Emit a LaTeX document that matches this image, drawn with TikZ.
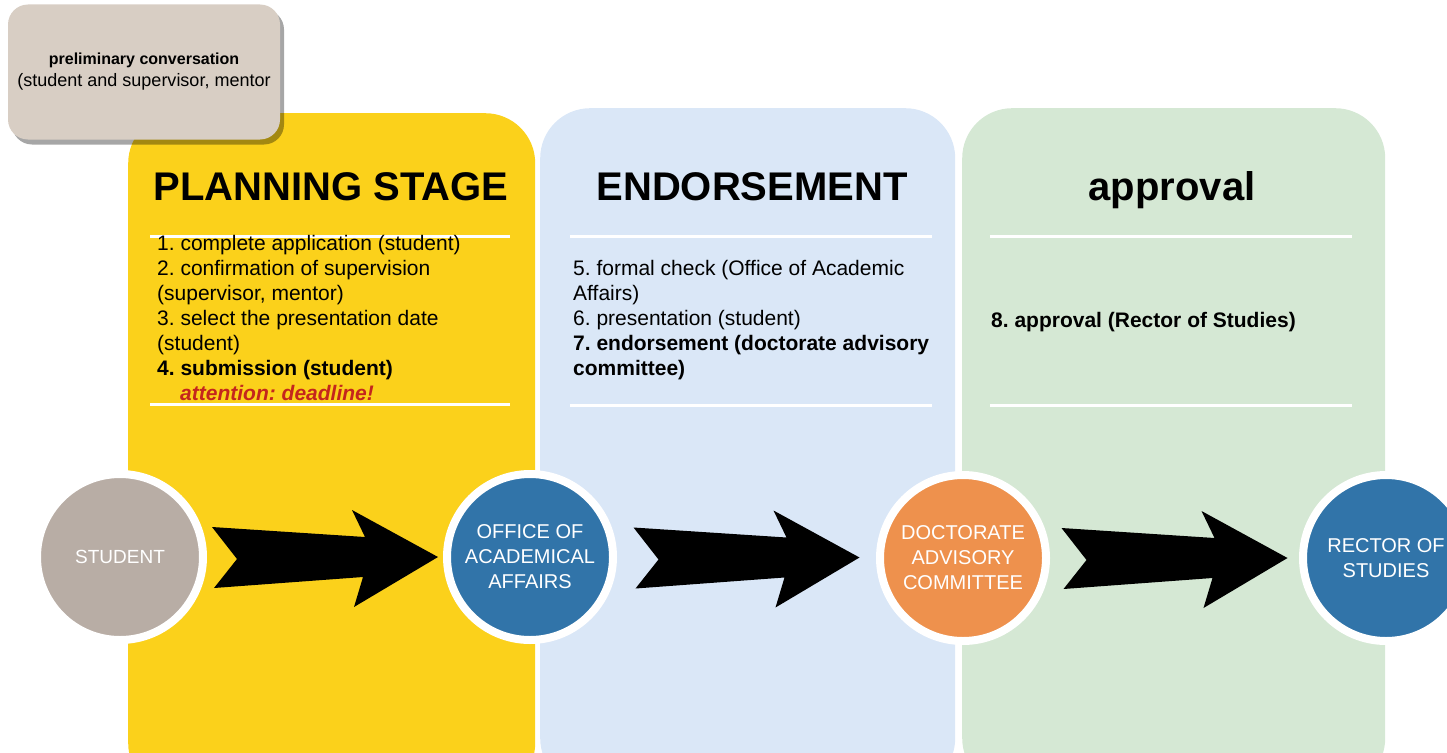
\documentclass[tikz,border=0pt]{standalone}
\usepackage{fontspec}
\setmainfont{Liberation Sans}
\usetikzlibrary{calc,shadows,positioning}
\frenchspacing

\definecolor{planyellow}{HTML}{FBD11B}
\definecolor{endorseblue}{HTML}{DAE7F7}
\definecolor{approvegreen}{HTML}{D5E8D4}
\definecolor{prelimbeige}{HTML}{D8CEC4}
\definecolor{studentgrey}{HTML}{B8ADA5}
\definecolor{officeblue}{HTML}{3174A9}
\definecolor{committeeorange}{HTML}{EE914D}
\definecolor{deadlinered}{HTML}{C4261D}

\begin{document}
\begin{tikzpicture}[
        x=1pt, y=-1pt,
        panel/.style={rectangle, rounded corners=50pt, minimum width=#1, minimum height=680pt, anchor=north west, inner sep=0pt},
        heading/.style={font=\fontsize{40}{48}\selectfont\bfseries, inner sep=0pt, anchor=base},
        steps/.style={font=\fontsize{21}{25}\selectfont, align=left, anchor=north west, inner sep=0pt},
        sepline/.style={white, line width=3pt},
        prelim/.style={rectangle, rounded corners=20pt, fill=prelimbeige, minimum width=272pt, minimum height=135pt, align=center, font=\fontsize{18}{22}\selectfont, drop shadow={shadow xshift=4pt, shadow yshift=-5pt, fill=black, opacity=0.35}},
        circ/.style={circle, draw=white, line width=8pt, minimum size=166pt, inner sep=0pt, text=white, align=center, font=\fontsize{20}{25}\selectfont},
        flowarrow/.pic={\fill[black] (-113,-30) -- (40,-20) -- (27,-47) -- (113,0) -- (29,50) -- (38,20) -- (-111,31) -- (-88,2) -- cycle;}
    ]
    \useasboundingbox (0,0) rectangle (1447,752);
    \clip (0,0) rectangle (1447,752);

    % stages
    \node[panel=407pt, fill=planyellow] (planning) at (128,113) {};
    \node[panel=415pt, fill=endorseblue] (endorse) at (540,108) {};
    \node[panel=423pt, fill=approvegreen] (approve) at (962,108) {};

    \draw[sepline] (150,236) -- (510,236) (150,404) -- (510,404);
    \draw[sepline] (570,236) -- (932,236) (570,405) -- (932,405);
    \draw[sepline] (990,236) -- (1352,236) (990,405) -- (1352,405);

    \node[heading] (planhead) at (331,200) {PLANNING STAGE};
    \node[heading] (endorsehead) at (752,200) {ENDORSEMENT};
    \node[heading] (approvehead) at (1172,200) {approval};

    \node[steps] (plansteps) at (157,235) {1. complete application (student)\\2. confirmation of supervision\\(supervisor, mentor)\\3. select the presentation date\\(student)\\\textbf{4. submission (student)}\\\hspace*{23pt}\textcolor{deadlinered}{\bfseries\itshape attention: deadline!}};
    \node[steps] (endorsesteps) at (573,260) {5. formal check (Office of Academic\\Affairs)\\6. presentation (student)\\\textbf{7. endorsement (doctorate advisory}\\\textbf{committee)}};
    \node[steps, anchor=base west] (approvesteps) at (991,327) {\textbf{8. approval (Rector of Studies)}};

    \node[prelim] (prelimbox) at (144,72) {{\fontsize{16}{22}\selectfont\bfseries preliminary conversation}\\(student and supervisor, mentor};

    % actors
    \node[circ, fill=studentgrey, font=\fontsize{19}{24}\selectfont] (student) at (120,557) {STUDENT};
    \node[circ, fill=officeblue] (office) at (530,557) {OFFICE OF\\ACADEMICAL\\AFFAIRS};
    \node[circ, fill=committeeorange] (committee) at (963,558) {DOCTORATE\\ADVISORY\\COMMITTEE};
    \node[circ, fill=officeblue] (rector) at (1386,558) {RECTOR OF\\STUDIES};

    \pic at ($(student.east)!0.5!(office.west)$) {flowarrow};
    \pic at ($(office.east)!0.5!(committee.west)$) {flowarrow};
    \pic at ($(committee.east)!0.5!(rector.west)$) {flowarrow};
\end{tikzpicture}
\end{document}
